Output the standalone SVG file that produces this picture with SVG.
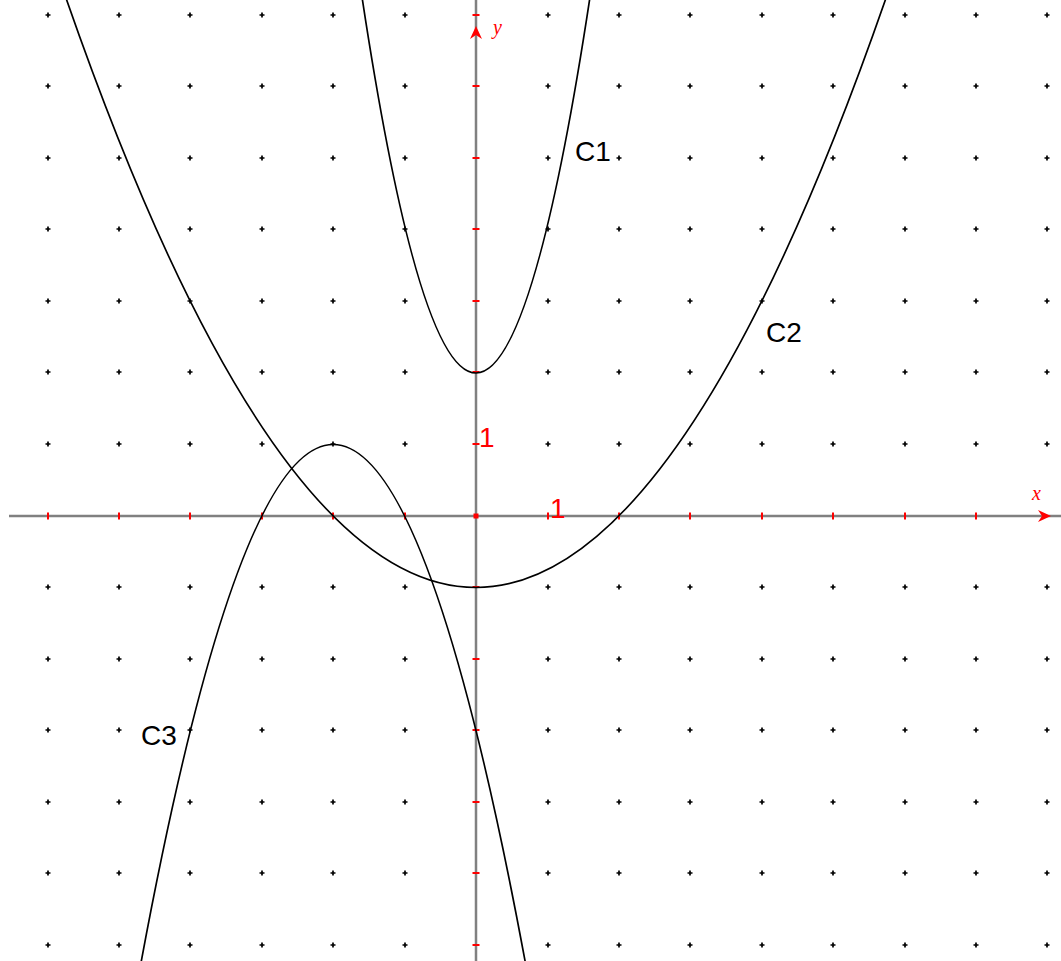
<svg xmlns="http://www.w3.org/2000/svg" width="1061" height="961" viewBox="0 0 1061 961">
<style>
.axis{stroke:#808080;stroke-width:2.5;fill:none}
.tick{stroke:#ff0000;stroke-width:2;fill:none}
.dot{stroke:#000;stroke-width:1.7;fill:none}
.curve{stroke:#000;stroke-width:1.7;fill:none}
.lbl{font-family:"Liberation Sans",Arial,sans-serif;font-size:28px;fill:#000}
.num{font-family:"Liberation Sans",Arial,sans-serif;font-size:28px;fill:#ff0000}
.var{font-family:"Liberation Serif","Times New Roman",serif;font-style:italic;font-size:20px;fill:#ff0000}
</style>
<rect width="1061" height="961" fill="#ffffff"/>
<g id="grid">
<path class="dot" d="M45.5 15h5M48 12.5v5M116.5 15h5M119 12.5v5M187.5 15h5M190 12.5v5M259.5 15h5M262 12.5v5M330.5 15h5M333 12.5v5M402.5 15h5M405 12.5v5M545.5 15h5M548 12.5v5M616.5 15h5M619 12.5v5M687.5 15h5M690 12.5v5M759.5 15h5M762 12.5v5M830.5 15h5M833 12.5v5M902.5 15h5M905 12.5v5M973.5 15h5M976 12.5v5M1044.5 15h5M1047 12.5v5
M45.5 86h5M48 83.5v5M116.5 86h5M119 83.5v5M187.5 86h5M190 83.5v5M259.5 86h5M262 83.5v5M330.5 86h5M333 83.5v5M402.5 86h5M405 83.5v5M545.5 86h5M548 83.5v5M616.5 86h5M619 83.5v5M687.5 86h5M690 83.5v5M759.5 86h5M762 83.5v5M830.5 86h5M833 83.5v5M902.5 86h5M905 83.5v5M973.5 86h5M976 83.5v5M1044.5 86h5M1047 83.5v5
M45.5 158h5M48 155.5v5M116.5 158h5M119 155.5v5M187.5 158h5M190 155.5v5M259.5 158h5M262 155.5v5M330.5 158h5M333 155.5v5M402.5 158h5M405 155.5v5M545.5 158h5M548 155.5v5M616.5 158h5M619 155.5v5M687.5 158h5M690 155.5v5M759.5 158h5M762 155.5v5M830.5 158h5M833 155.5v5M902.5 158h5M905 155.5v5M973.5 158h5M976 155.5v5M1044.5 158h5M1047 155.5v5
M45.5 229h5M48 226.5v5M116.5 229h5M119 226.5v5M187.5 229h5M190 226.5v5M259.5 229h5M262 226.5v5M330.5 229h5M333 226.5v5M402.5 229h5M405 226.5v5M545.5 229h5M548 226.5v5M616.5 229h5M619 226.5v5M687.5 229h5M690 226.5v5M759.5 229h5M762 226.5v5M830.5 229h5M833 226.5v5M902.5 229h5M905 226.5v5M973.5 229h5M976 226.5v5M1044.5 229h5M1047 226.5v5
M45.5 301h5M48 298.5v5M116.5 301h5M119 298.5v5M187.5 301h5M190 298.5v5M259.5 301h5M262 298.5v5M330.5 301h5M333 298.5v5M402.5 301h5M405 298.5v5M545.5 301h5M548 298.5v5M616.5 301h5M619 298.5v5M687.5 301h5M690 298.5v5M759.5 301h5M762 298.5v5M830.5 301h5M833 298.5v5M902.5 301h5M905 298.5v5M973.5 301h5M976 298.5v5M1044.5 301h5M1047 298.5v5
M45.5 372h5M48 369.5v5M116.5 372h5M119 369.5v5M187.5 372h5M190 369.5v5M259.5 372h5M262 369.5v5M330.5 372h5M333 369.5v5M402.5 372h5M405 369.5v5M545.5 372h5M548 369.5v5M616.5 372h5M619 369.5v5M687.5 372h5M690 369.5v5M759.5 372h5M762 369.5v5M830.5 372h5M833 369.5v5M902.5 372h5M905 369.5v5M973.5 372h5M976 369.5v5M1044.5 372h5M1047 369.5v5
M45.5 444h5M48 441.5v5M116.5 444h5M119 441.5v5M187.5 444h5M190 441.5v5M259.5 444h5M262 441.5v5M330.5 444h5M333 441.5v5M402.5 444h5M405 441.5v5M545.5 444h5M548 441.5v5M616.5 444h5M619 441.5v5M687.5 444h5M690 441.5v5M759.5 444h5M762 441.5v5M830.5 444h5M833 441.5v5M902.5 444h5M905 441.5v5M973.5 444h5M976 441.5v5M1044.5 444h5M1047 441.5v5
M45.5 587h5M48 584.5v5M116.5 587h5M119 584.5v5M187.5 587h5M190 584.5v5M259.5 587h5M262 584.5v5M330.5 587h5M333 584.5v5M402.5 587h5M405 584.5v5M545.5 587h5M548 584.5v5M616.5 587h5M619 584.5v5M687.5 587h5M690 584.5v5M759.5 587h5M762 584.5v5M830.5 587h5M833 584.5v5M902.5 587h5M905 584.5v5M973.5 587h5M976 584.5v5M1044.5 587h5M1047 584.5v5
M45.5 659h5M48 656.5v5M116.5 659h5M119 656.5v5M187.5 659h5M190 656.5v5M259.5 659h5M262 656.5v5M330.5 659h5M333 656.5v5M402.5 659h5M405 656.5v5M545.5 659h5M548 656.5v5M616.5 659h5M619 656.5v5M687.5 659h5M690 656.5v5M759.5 659h5M762 656.5v5M830.5 659h5M833 656.5v5M902.5 659h5M905 656.5v5M973.5 659h5M976 656.5v5M1044.5 659h5M1047 656.5v5
M45.5 730h5M48 727.5v5M116.5 730h5M119 727.5v5M187.5 730h5M190 727.5v5M259.5 730h5M262 727.5v5M330.5 730h5M333 727.5v5M402.5 730h5M405 727.5v5M545.5 730h5M548 727.5v5M616.5 730h5M619 727.5v5M687.5 730h5M690 727.5v5M759.5 730h5M762 727.5v5M830.5 730h5M833 727.5v5M902.5 730h5M905 727.5v5M973.5 730h5M976 727.5v5M1044.5 730h5M1047 727.5v5
M45.5 802h5M48 799.5v5M116.5 802h5M119 799.5v5M187.5 802h5M190 799.5v5M259.5 802h5M262 799.5v5M330.5 802h5M333 799.5v5M402.5 802h5M405 799.5v5M545.5 802h5M548 799.5v5M616.5 802h5M619 799.5v5M687.5 802h5M690 799.5v5M759.5 802h5M762 799.5v5M830.5 802h5M833 799.5v5M902.5 802h5M905 799.5v5M973.5 802h5M976 799.5v5M1044.5 802h5M1047 799.5v5
M45.5 873h5M48 870.5v5M116.5 873h5M119 870.5v5M187.5 873h5M190 870.5v5M259.5 873h5M262 870.5v5M330.5 873h5M333 870.5v5M402.5 873h5M405 870.5v5M545.5 873h5M548 870.5v5M616.5 873h5M619 870.5v5M687.5 873h5M690 870.5v5M759.5 873h5M762 870.5v5M830.5 873h5M833 870.5v5M902.5 873h5M905 870.5v5M973.5 873h5M976 870.5v5M1044.5 873h5M1047 870.5v5
M45.5 945h5M48 942.5v5M116.5 945h5M119 942.5v5M187.5 945h5M190 942.5v5M259.5 945h5M262 942.5v5M330.5 945h5M333 942.5v5M402.5 945h5M405 942.5v5M545.5 945h5M548 942.5v5M616.5 945h5M619 942.5v5M687.5 945h5M690 942.5v5M759.5 945h5M762 942.5v5M830.5 945h5M833 942.5v5M902.5 945h5M905 942.5v5M973.5 945h5M976 942.5v5M1044.5 945h5M1047 942.5v5"/>
</g>
<g id="axes">
<line class="axis" x1="9" y1="516" x2="1061" y2="516"/>
<line class="axis" x1="476" y1="0" x2="476" y2="961"/>
<path class="tick" d="M48 512.5v7M119 512.5v7M190 512.5v7M262 512.5v7M333 512.5v7M405 512.5v7M548 512.5v7M619 512.5v7M690 512.5v7M762 512.5v7M833 512.5v7M905 512.5v7M976 512.5v7
M472.5 15h7M472.5 86h7M472.5 158h7M472.5 229h7M472.5 301h7M472.5 372h7M472.5 444h7M472.5 587h7M472.5 659h7M472.5 730h7M472.5 802h7M472.5 873h7M472.5 945h7"/>
<rect x="473.5" y="513.5" width="5" height="5" fill="#ff0000"/>
<path d="M476 26L482 39L476 35L470 39Z" fill="#ff0000"/>
<path d="M1051 516L1038 510L1042 516L1038 522Z" fill="#ff0000"/>
<text class="var" x="493" y="34">y</text>
<text class="var" x="1032" y="500">x</text>
<text class="num" x="479" y="447">1</text>
<text class="num" x="550" y="518">1</text>
</g>
<g id="connectors">
<path id="c1" class="curve" d="M360 -16.3Q476 762.3 592 -16.3"/>
<path id="c2" class="curve" d="M47.6 -56Q476 1231 904.4 -56"/>
<path id="c3" class="curve" d="M133.3 1005.1Q333.2 -116.1 533.1 1005.1"/>
</g>
<g id="labels">
<text class="lbl" x="575" y="161">C1</text>
<text class="lbl" x="766" y="342">C2</text>
<text class="lbl" x="141" y="745">C3</text>
</g>
</svg>
